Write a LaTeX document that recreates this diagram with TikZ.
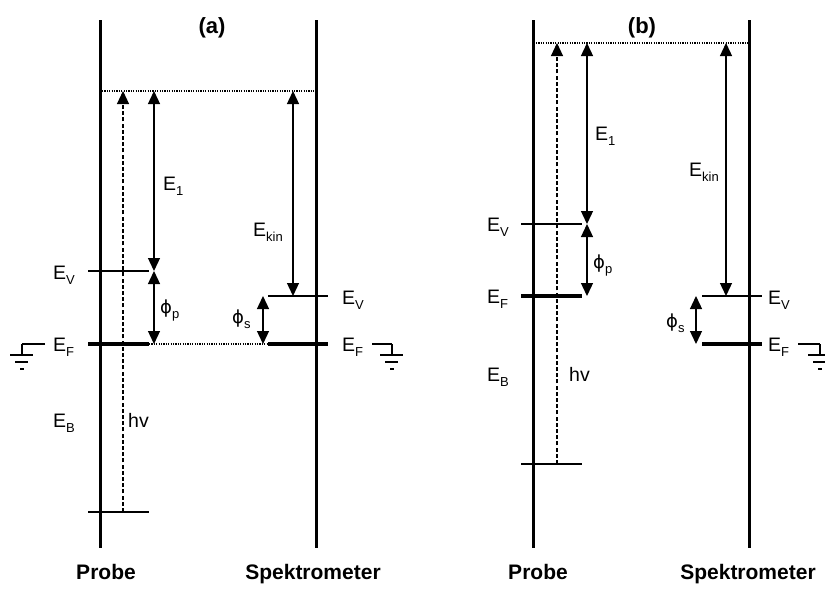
\documentclass[tikz,border=0pt]{standalone}
\usepackage{fontspec}
\setmainfont{Liberation Sans}
\newfontfamily\phifont{DejaVu Sans}
\usetikzlibrary{arrows.meta}
\newcommand{\lsub}[1]{\raisebox{-5pt}{\fontsize{13}{13}\selectfont #1}}
\newcommand{\lphi}{{\phifont\fontsize{18}{18}\selectfont ϕ}}
\begin{document}
\begin{tikzpicture}[x=1pt,y=-1pt,
 wall/.style={line width=3pt},
 lvl/.style={line width=1.3pt},
 fermi/.style={line width=3.2pt},
 dotline/.style={line width=1.2pt, dash pattern=on 1.2pt off 1.2pt},
 darr/.style={line width=1.3pt,{Triangle[length=13pt,width=12pt]}-{Triangle[length=13pt,width=12pt]}},
 photon/.style={line width=1.1pt, dash pattern=on 4pt off 2.2pt, -{Triangle[length=13pt,width=12pt]}},
 lab/.style={inner sep=0pt, anchor=base west, font=\fontsize{19.5}{19.5}\selectfont},
 title/.style={inner sep=0pt, anchor=base, font=\fontsize{21}{21}\selectfont\bfseries},
 ptitle/.style={inner sep=0pt, anchor=base, font=\fontsize{22}{22}\selectfont\bfseries},
 gnd/.style={line width=1.3pt},
 pics/groundsym/.style={code={
   \draw[gnd] (0,0) -- (0,11);
   \draw[gnd] (-12,11) -- (11,11);
   \draw[gnd] (-7,18) -- (6,18);
   \draw[gnd] (-2,25) -- (2,25);
 }}]
\useasboundingbox (0,0) rectangle (825,589);

% ================= panel (a) =================
\node[ptitle] (ta) at (212,34) {(a)};
\coordinate (aPt) at (100,20); \coordinate (aPb) at (100,548);
\coordinate (aSt) at (316,20); \coordinate (aSb) at (316,548);
\draw[wall] (aPt) -- (aPb);
\draw[wall] (aSt) -- (aSb);
% vacuum level (dotted)
\coordinate (aTopL) at (102,91); \coordinate (aTopR) at (315,91);
\draw[dotline] (aTopL) -- (aTopR);
% probe levels
\coordinate (aEVl) at (88,271); \coordinate (aEVr) at (149,271);
\coordinate (aEFl) at (88,344); \coordinate (aEFr) at (149,344);
\coordinate (aEBl) at (88,512); \coordinate (aEBr) at (149,512);
\draw[lvl] (aEVl) -- (aEVr);
\draw[fermi] (aEFl) -- (aEFr);
\draw[lvl] (aEBl) -- (aEBr);
% spectrometer levels
\coordinate (aSVl) at (268,296); \coordinate (aSVr) at (328,296);
\coordinate (aSFl) at (268,344); \coordinate (aSFr) at (328,344);
\draw[lvl] (aSVl) -- (aSVr);
\draw[fermi] (aSFl) -- (aSFr);
\draw[dotline] (aEFr) -- (aSFl);
% arrows
\coordinate (aHvB) at (123,512); \coordinate (aHvT) at (123,91);
\draw[photon] (aHvB) -- (aHvT);
\coordinate (aE1T) at (154,91); \coordinate (aE1B) at (154,271);
\draw[darr] (aE1T) -- (aE1B);
\coordinate (aPpB) at (154,344);
\draw[darr] (aE1B) -- (aPpB);
\coordinate (aEkT) at (293,91); \coordinate (aEkB) at (293,296);
\draw[darr] (aEkT) -- (aEkB);
\coordinate (aPsT) at (263,296); \coordinate (aPsB) at (263,344);
\draw[darr] (aPsT) -- (aPsB);
% labels
\node[lab] (aLE1) at (163,190) {E\lsub{1}};
\node[lab] (aLEk) at (253,236) {E\lsub{kin}};
\node[lab] (aLEV) at (53,279) {E\lsub{V}};
\node[lab] (aLEF) at (53,351) {E\lsub{F}};
\node[lab] (aLEB) at (53,427) {E\lsub{B}};
\node[lab] (aLhv) at (128,427) {hv};
\node[lab] (aLpp) at (160,313) {\lphi\lsub{p}};
\node[lab] (aLps) at (232,323) {\lphi\lsub{s}};
\node[lab] (aLSV) at (342,304) {E\lsub{V}};
\node[lab] (aLSF) at (342,351) {E\lsub{F}};
% grounds
\coordinate (aG1a) at (45,344); \coordinate (aG1b) at (22,344);
\draw[gnd] (aG1a) -- (aG1b);
\pic at (aG1b) {groundsym};
\coordinate (aG2a) at (372,344); \coordinate (aG2b) at (392,344);
\draw[gnd] (aG2a) -- (aG2b);
\pic at (aG2b) {groundsym};
\node[title] (aProbe) at (106,579) {Probe};
\node[title] (aSpek) at (313,579) {Spektrometer};

% ================= panel (b) =================
\node[ptitle] (tb) at (642,34) {(b)};
\coordinate (bPt) at (533,20); \coordinate (bPb) at (533,548);
\coordinate (bSt) at (749,20); \coordinate (bSb) at (749,548);
\draw[wall] (bPt) -- (bPb);
\draw[wall] (bSt) -- (bSb);
\coordinate (bTopL) at (536,43); \coordinate (bTopR) at (748,43);
\draw[dotline] (bTopL) -- (bTopR);
\coordinate (bEVl) at (521,224); \coordinate (bEVr) at (582,224);
\coordinate (bEFl) at (521,296); \coordinate (bEFr) at (582,296);
\coordinate (bEBl) at (521,464); \coordinate (bEBr) at (582,464);
\draw[lvl] (bEVl) -- (bEVr);
\draw[fermi] (bEFl) -- (bEFr);
\draw[lvl] (bEBl) -- (bEBr);
\coordinate (bSVl) at (702,296); \coordinate (bSVr) at (762,296);
\coordinate (bSFl) at (702,344); \coordinate (bSFr) at (762,344);
\draw[lvl] (bSVl) -- (bSVr);
\draw[fermi] (bSFl) -- (bSFr);
\coordinate (bHvB) at (557,464); \coordinate (bHvT) at (557,43);
\draw[photon] (bHvB) -- (bHvT);
\coordinate (bE1T) at (587,43); \coordinate (bE1B) at (587,224);
\draw[darr] (bE1T) -- (bE1B);
\coordinate (bPpB) at (587,296);
\draw[darr] (bE1B) -- (bPpB);
\coordinate (bEkT) at (726,43); \coordinate (bEkB) at (726,296);
\draw[darr] (bEkT) -- (bEkB);
\coordinate (bPsT) at (696,296); \coordinate (bPsB) at (696,344);
\draw[darr] (bPsT) -- (bPsB);
\node[lab] (bLE1) at (595,140) {E\lsub{1}};
\node[lab] (bLEk) at (689,176) {E\lsub{kin}};
\node[lab] (bLEV) at (487,231) {E\lsub{V}};
\node[lab] (bLEF) at (487,303) {E\lsub{F}};
\node[lab] (bLEB) at (487,381) {E\lsub{B}};
\node[lab] (bLhv) at (569,381) {hv};
\node[lab] (bLpp) at (593,268) {\lphi\lsub{p}};
\node[lab] (bLps) at (666,327) {\lphi\lsub{s}};
\node[lab] (bLSV) at (768,304) {E\lsub{V}};
\node[lab] (bLSF) at (768,351) {E\lsub{F}};
\coordinate (bG2a) at (798,344); \coordinate (bG2b) at (820,344);
\draw[gnd] (bG2a) -- (bG2b);
\pic at (bG2b) {groundsym};
\node[title] (bProbe) at (538,579) {Probe};
\node[title] (bSpek) at (748,579) {Spektrometer};
\end{tikzpicture}
\end{document}
